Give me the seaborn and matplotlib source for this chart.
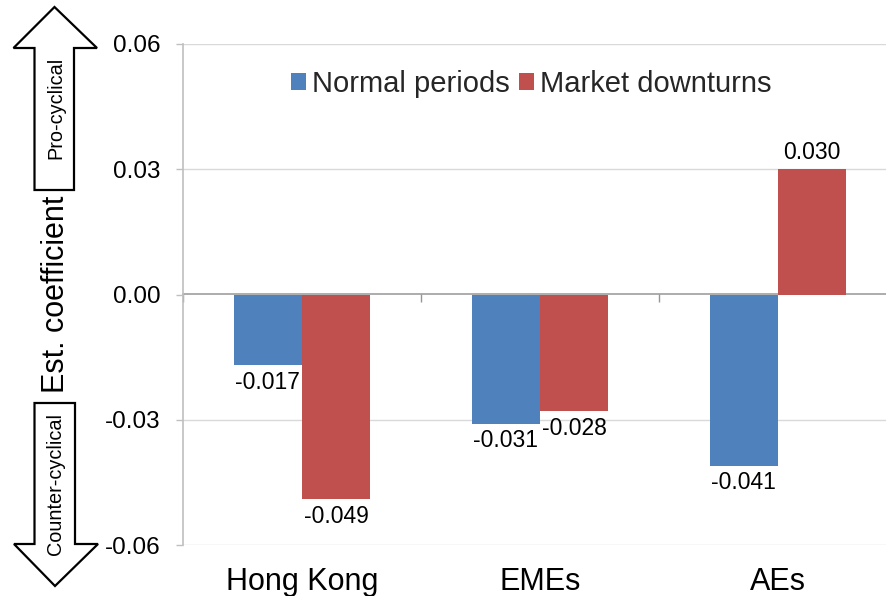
import matplotlib
matplotlib.use("Agg")
import matplotlib.pyplot as plt
import seaborn as sns
import pandas as pd
from matplotlib.patches import Polygon

# ---- data ----
categories = ["Hong Kong", "EMEs", "AEs"]
series_names = ["Normal periods", "Market downturns"]
normal_periods = [-0.017, -0.031, -0.041]
market_downturns = [-0.049, -0.028, 0.030]
y_ticks = [-0.06, -0.03, 0.00, 0.03, 0.06]
y_tick_labels = ["-0.06", "-0.03", "0.00", "0.03", "0.06"]
colors = ["#4F81BD", "#C0504D"]

df = pd.DataFrame({
    "category": categories * 2,
    "series": [series_names[0]] * 3 + [series_names[1]] * 3,
    "value": normal_periods + market_downturns,
})

sns.set_theme(style="white")
plt.rcParams["font.family"] = ["Liberation Sans", "DejaVu Sans"]

W, H = 886, 596
fig = plt.figure(figsize=(W / 100, H / 100), dpi=100)

def fx(px):
    return px / W

def fy(py):
    return 1 - py / H

left, right, top, bottom = 183, 897, 44, 545
ax = fig.add_axes([fx(left), fy(bottom), (right - left) / W, (bottom - top) / H])

sns.barplot(data=df, x="category", y="value", hue="series", order=categories,
            hue_order=series_names, palette=colors, width=0.575, saturation=1,
            ax=ax, legend=True, edgecolor="none", linewidth=0)

ax.set_xlim(-0.5, 2.5)
ax.set_ylim(-0.06, 0.06)
ax.set_yticks(y_ticks)
ax.set_yticklabels(y_tick_labels)

# gridlines
for yv in y_ticks:
    if yv != 0:
        ax.axhline(yv, color="#D9D9D9", lw=1.0, zorder=0)

for s in ["top", "right", "bottom"]:
    ax.spines[s].set_visible(False)
ax.spines["left"].set_color("#BFBFBF")
ax.spines["left"].set_linewidth(1.2)

ax.tick_params(axis="y", which="major", direction="out", length=5, width=1,
               color="#BFBFBF", labelsize=17.5, pad=11, left=True,
               labelcolor="black")
ax.tick_params(axis="x", which="major", length=0, labelsize=22, pad=16,
               labelcolor="black")
ax.set_xlabel("")

# zero axis with category-boundary ticks (pointing down)
sec = ax.secondary_xaxis(0.5)
sec.set_xticks([-0.5, 0.5, 1.5, 2.5])
sec.set_xticklabels([])
sec.tick_params(direction="in", length=6, width=1, color="#969696")
for sp in sec.spines.values():
    sp.set_color("#969696")
    sp.set_linewidth(1.1)

# data labels
for cont in ax.containers:
    ax.bar_label(cont, fmt="%.3f", padding=4, fontsize=16.5, color="black")

# y label
ax.set_ylabel("Est. coefficient", fontsize=22, color="black", va="center")
ax.yaxis.set_label_coords((56 - left) / (right - left), 0.5)

# legend
handles, labels = ax.get_legend_handles_labels()
ax.legend(handles, labels, loc="center", ncol=2, frameon=False,
          bbox_to_anchor=(fx(531), fy(84)), bbox_transform=fig.transFigure,
          fontsize=21, handlelength=0.53, handleheight=0.53,
          handletextpad=0.2, columnspacing=0.3, borderpad=0, borderaxespad=0)

# direction arrows
up = [(54.5, 7), (97, 48), (74, 48), (74, 190), (34.5, 190), (34.5, 48), (13.5, 48)]
down = [(34.5, 403), (75, 403), (75, 544), (98, 544), (55, 586), (14, 544), (34.5, 544)]
for pts in (up, down):
    fig.patches.append(Polygon([(fx(x), fy(y)) for x, y in pts], closed=True,
                               facecolor="white", edgecolor="black", lw=1.6,
                               transform=fig.transFigure, figure=fig))
fig.text(fx(56), fy(108), "Pro-cyclical", rotation=90, ha="center", va="center",
         fontsize=14.3, color="black")
fig.text(fx(56), fy(484), "Counter-cyclical", rotation=90, ha="center", va="center",
         fontsize=14.3, color="black")

fig.savefig("out.png", dpi=100)
